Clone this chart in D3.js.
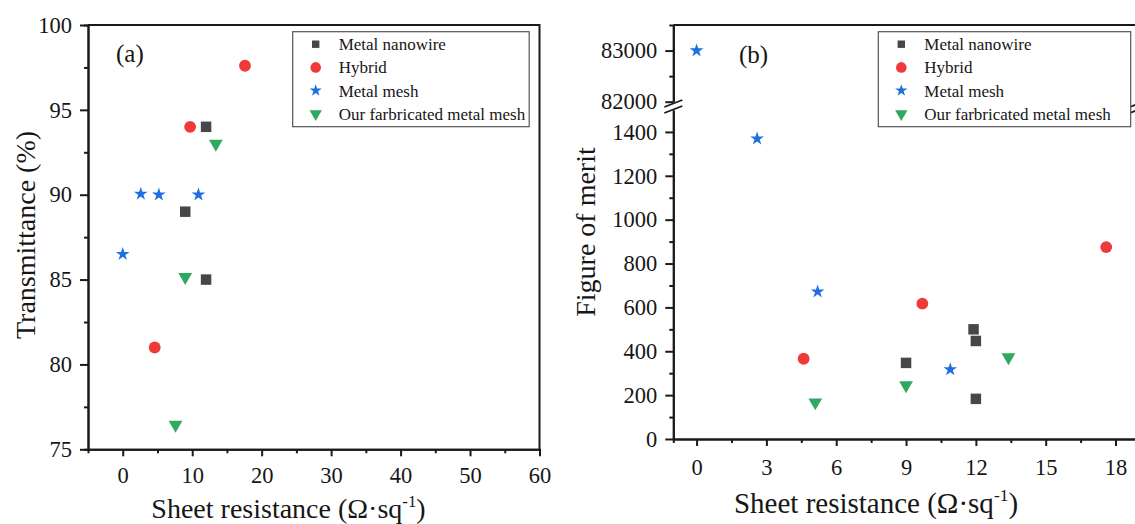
<!DOCTYPE html>
<html>
<head>
<meta charset="utf-8">
<script src="https://cdn.jsdelivr.net/npm/d3@7"></script>
<style>
  body { margin: 0; background: #fff; }
  svg { display: block; }
  svg text { font-family: "Liberation Serif", "DejaVu Serif", "Times New Roman", serif; fill: #161616; }
</style>
</head>
<body>
<svg width="1135" height="524"></svg>
<script>
// series names (legend)
const seriesNames = ["Metal nanowire", "Hybrid", "Metal mesh", "Our farbricated metal mesh"];

// (a) sheet resistance vs transmittance
const nanowireT = [[12.0, 94.0], [9.0, 89.0], [12.0, 85.0]];
const hybridT = [[17.6, 97.6], [9.7, 94.0], [4.6, 81.0]];
const meshT = [[0, 86.5], [2.6, 90.05], [5.2, 90.0], [10.9, 90.0]];
const oursT = [[13.4, 93.0], [9.0, 85.15], [7.6, 76.45]];

// (b) sheet resistance vs figure of merit
const nanowireF = [[11.9, 500], [12.0, 447], [9.0, 347], [12.0, 183]];
const hybridF = [[4.6, 366], [9.7, 617], [17.6, 875]];
const meshF = [[0, 83000], [2.6, 1369], [5.2, 672], [10.9, 317]];
const oursF = [[5.1, 167], [9.0, 245], [13.4, 373]];

// tick labels
const xTicksA = [0, 10, 20, 30, 40, 50, 60];
const yTicksA = [75, 80, 85, 90, 95, 100];
const xTicksB = [0, 3, 6, 9, 12, 15, 18];
const yTicksBLow = [0, 200, 400, 600, 800, 1000, 1200, 1400];
const yTicksBHigh = [82000, 83000];

const colors = ["#474747", "#ef3a3a", "#1f6fe3", "#2fa862"];
const shapes = [d3.symbolSquare, d3.symbolCircle, d3.symbolStar, d3.symbolTriangle];
const sizes = [110, 110, 58, 82];
const ink = "#1a1a1a";
const serif = "'Liberation Serif', 'DejaVu Serif', serif";

const svg = d3.select("svg");

function marker(g, i, x, y, scale) {
  const s = scale || 1;
  g.append("path")
    .attr("d", d3.symbol().type(shapes[i]).size(sizes[i] * s)())
    .attr("transform", `translate(${x},${y})` + (i === 3 ? " rotate(180)" : ""))
    .attr("fill", colors[i]);
}

function styleAxis(g, fontSize) {
  g.attr("font-family", serif);
  g.select(".domain").attr("stroke", ink).attr("stroke-width", 2);
  g.selectAll(".tick line").attr("stroke", ink).attr("stroke-width", 2);
  g.selectAll(".tick text").attr("font-size", fontSize).attr("fill", ink);
}

function legend(x0, y0, w) {
  const g = svg.append("g");
  g.append("rect").attr("x", x0).attr("y", y0).attr("width", w).attr("height", 95)
    .attr("fill", "#fff").attr("stroke", "#555").attr("stroke-width", 1.2);
  seriesNames.forEach((name, i) => {
    const cy = y0 + 12.5 + i * 23.2;
    marker(g, i, x0 + 23, cy, i === 0 ? 0.5 : 0.8);
    g.append("text").attr("x", x0 + 46).attr("y", cy + 6)
      .attr("font-size", 17).text(name);
  });
}

function xTitle(cx, y, size) {
  const t = svg.append("text").attr("x", cx).attr("y", y)
    .attr("text-anchor", "middle").attr("font-size", size);
  t.append("tspan").text("Sheet resistance (\u03a9\u00b7sq");
  t.append("tspan").attr("font-size", size * 0.6).attr("dy", -size * 0.4).text("-1");
  t.append("tspan").attr("dy", size * 0.4).text(")");
}

const fmt = d3.format("d");

// ---------- panel (a) ----------
const xA = d3.scaleLinear().domain([-5, 60]).range([88, 539.5]);
const yA = d3.scaleLinear().domain([75, 100]).range([449.3, 25]);

svg.append("g").attr("transform", "translate(0,449.3)")
  .call(d3.axisBottom(xA).tickValues(d3.range(5, 60, 10)).tickSize(4).tickFormat(""))
  .call(g => styleAxis(g, 22));
svg.append("g").attr("transform", "translate(0,449.3)")
  .call(d3.axisBottom(xA).tickValues(xTicksA).tickSize(7).tickPadding(11).tickSizeOuter(0).tickFormat(fmt))
  .call(g => styleAxis(g, 22.5));
svg.append("g").attr("transform", "translate(88,0)")
  .call(d3.axisLeft(yA).tickValues(d3.range(77.5, 100, 5)).tickSize(4).tickFormat(""))
  .call(g => styleAxis(g, 22));
svg.append("g").attr("transform", "translate(88,0)")
  .call(d3.axisLeft(yA).tickValues(yTicksA).tickSize(8).tickPadding(8).tickSizeOuter(0).tickFormat(fmt))
  .call(g => styleAxis(g, 22.5));
// frame
svg.append("path").attr("d", `M${xA(-5)},${yA(100)}H${xA(60)}V${yA(75)}`)
  .attr("fill", "none").attr("stroke", ink).attr("stroke-width", 2);

const gA = svg.append("g");
[nanowireT, hybridT, meshT, oursT].forEach((s, i) =>
  s.forEach(d => marker(gA, i, xA(d[0]), yA(d[1]))));

svg.append("text").attr("x", 116).attr("y", 61.5).attr("font-size", 25).text("(a)");
legend(292.7, 31.7, 236.5);
xTitle(288.5, 518, 28);
svg.append("text").attr("transform", "translate(35,235) rotate(-90)")
  .attr("text-anchor", "middle").attr("font-size", 28).text("Transmittance (%)");

// ---------- panel (b) ----------
const xB = d3.scaleLinear().domain([-1, 19]).range([673.3, 1138.8]);
const yBLow = d3.scaleLinear().domain([0, 1500]).range([439, 110]);
const yBHigh = d3.scaleLinear().domain([82000, 83500]).range([101.7, 25]);
const yB = v => v >= 82000 ? yBHigh(v) : yBLow(v);

svg.append("g").attr("transform", "translate(0,439)")
  .call(d3.axisBottom(xB).tickValues(d3.range(1.5, 19, 3)).tickSize(4).tickFormat(""))
  .call(g => styleAxis(g, 22));
svg.append("g").attr("transform", "translate(0,439)")
  .call(d3.axisBottom(xB).tickValues(xTicksB).tickSize(7).tickPadding(13).tickSizeOuter(0).tickFormat(fmt))
  .call(g => styleAxis(g, 22.5));
svg.append("g").attr("transform", "translate(673.3,0)")
  .call(d3.axisLeft(yBLow).tickValues(d3.range(100, 1500, 200)).tickSize(4).tickFormat("").tickSizeOuter(0))
  .call(g => styleAxis(g, 22));
svg.append("g").attr("transform", "translate(673.3,0)")
  .call(d3.axisLeft(yBLow).tickValues(yTicksBLow).tickSize(8).tickPadding(8).tickSizeOuter(0).tickFormat(fmt))
  .call(g => styleAxis(g, 22.5));
svg.append("g").attr("transform", "translate(673.3,0)")
  .call(d3.axisLeft(yBHigh).tickValues([82500, 83500]).tickSize(4).tickFormat("").tickSizeOuter(0))
  .call(g => styleAxis(g, 22));
svg.append("g").attr("transform", "translate(673.3,0)")
  .call(d3.axisLeft(yBHigh).tickValues(yTicksBHigh).tickSize(8).tickPadding(8).tickSizeOuter(0).tickFormat(fmt))
  .call(g => styleAxis(g, 22.5));
// frame (right side falls just outside the picture)
svg.append("path").attr("d", `M${xB(-1)},${yBHigh(83500)}H${xB(19)}V${yBLow(0)}`)
  .attr("fill", "none").attr("stroke", ink).attr("stroke-width", 2);

// axis break marks
[xB(-1), xB(19)].forEach(bx => {
  const g = svg.append("g").attr("stroke", ink).attr("stroke-width", 1.8);
  g.append("line").attr("x1", bx - 9).attr("y1", 107).attr("x2", bx + 9).attr("y2", 100);
  g.append("line").attr("x1", bx - 9).attr("y1", 113).attr("x2", bx + 9).attr("y2", 106);
});

const gB = svg.append("g");
[nanowireF, hybridF, meshF, oursF].forEach((s, i) =>
  s.forEach(d => marker(gB, i, xB(d[0]), yB(d[1]))));

svg.append("text").attr("x", 739).attr("y", 62.5).attr("font-size", 25).text("(b)");
legend(878.3, 31.7, 252.4);
xTitle(876, 512.7, 29);
svg.append("text").attr("transform", "translate(595,232) rotate(-90)")
  .attr("text-anchor", "middle").attr("font-size", 28).text("Figure of merit");
</script>
</body>
</html>
